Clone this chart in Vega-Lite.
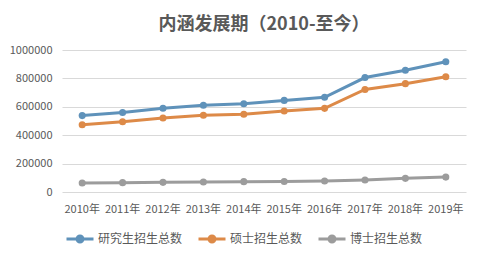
{
  "$schema": "https://vega.github.io/schema/vega-lite/v6.json",
  "autosize": {"type": "none"},
  "width": 404,
  "height": 142,
  "padding": {"left": 62, "top": 50, "right": 18, "bottom": 64},
  "background": "white",
  "title": {
    "text": "内涵发展期（2010-至今）",
    "fontSize": 18,
    "font": "Noto Sans CJK SC",
    "fontWeight": "bold",
    "color": "#595959",
    "anchor": "middle",
    "offset": 10
  },
  "data": {
    "values": [
      {"year": "2010年", "series": "研究生招生总数", "value": 538000},
      {"year": "2011年", "series": "研究生招生总数", "value": 560000},
      {"year": "2012年", "series": "研究生招生总数", "value": 590000},
      {"year": "2013年", "series": "研究生招生总数", "value": 611000},
      {"year": "2014年", "series": "研究生招生总数", "value": 621000},
      {"year": "2015年", "series": "研究生招生总数", "value": 645000},
      {"year": "2016年", "series": "研究生招生总数", "value": 667000},
      {"year": "2017年", "series": "研究生招生总数", "value": 806000},
      {"year": "2018年", "series": "研究生招生总数", "value": 858000},
      {"year": "2019年", "series": "研究生招生总数", "value": 917000},
      {"year": "2010年", "series": "硕士招生总数", "value": 474000},
      {"year": "2011年", "series": "硕士招生总数", "value": 495000},
      {"year": "2012年", "series": "硕士招生总数", "value": 521000},
      {"year": "2013年", "series": "硕士招生总数", "value": 540000},
      {"year": "2014年", "series": "硕士招生总数", "value": 548000},
      {"year": "2015年", "series": "硕士招生总数", "value": 570000},
      {"year": "2016年", "series": "硕士招生总数", "value": 589000},
      {"year": "2017年", "series": "硕士招生总数", "value": 722000},
      {"year": "2018年", "series": "硕士招生总数", "value": 763000},
      {"year": "2019年", "series": "硕士招生总数", "value": 811000},
      {"year": "2010年", "series": "博士招生总数", "value": 64000},
      {"year": "2011年", "series": "博士招生总数", "value": 66000},
      {"year": "2012年", "series": "博士招生总数", "value": 68000},
      {"year": "2013年", "series": "博士招生总数", "value": 70000},
      {"year": "2014年", "series": "博士招生总数", "value": 73000},
      {"year": "2015年", "series": "博士招生总数", "value": 74000},
      {"year": "2016年", "series": "博士招生总数", "value": 77000},
      {"year": "2017年", "series": "博士招生总数", "value": 84000},
      {"year": "2018年", "series": "博士招生总数", "value": 96000},
      {"year": "2019年", "series": "博士招生总数", "value": 105000}
    ]
  },
  "mark": {"type": "line", "strokeWidth": 3, "point": {"size": 50, "filled": true}},
  "encoding": {
    "x": {
      "field": "year",
      "type": "ordinal",
      "title": null,
      "scale": {"type": "band", "paddingInner": 0, "paddingOuter": 0},
      "axis": {
        "labelAngle": 0,
        "domain": false,
        "ticks": false,
        "labelPadding": 11,
        "labelFontSize": 11,
        "labelFont": "Noto Sans CJK SC",
        "labelColor": "#595959",
        "bandPosition": 0.5
      }
    },
    "y": {
      "field": "value",
      "type": "quantitative",
      "title": null,
      "scale": {"domain": [0, 1000000], "nice": false},
      "axis": {
        "values": [0, 200000, 400000, 600000, 800000, 1000000],
        "format": "d",
        "domain": false,
        "ticks": false,
        "labelPadding": 10,
        "labelFontSize": 11,
        "labelFont": "Noto Sans CJK SC",
        "labelColor": "#595959",
        "gridColor": "#d9d9d9",
        "gridWidth": 1
      }
    },
    "color": {
      "field": "series",
      "type": "nominal",
      "sort": ["研究生招生总数", "硕士招生总数", "博士招生总数"],
      "scale": {
        "domain": ["研究生招生总数", "硕士招生总数", "博士招生总数"],
        "range": ["#5f92ba", "#dd8a48", "#9c9c9c"]
      },
      "legend": {
        "title": null,
        "orient": "none",
        "direction": "horizontal",
        "legendX": 3,
        "legendY": 174,
        "symbolType": "M-1,0L1,0M0.22,0A0.22,0.22,0,1,1,-0.22,0A0.22,0.22,0,1,1,0.22,0",
        "symbolSize": 729,
        "symbolStrokeWidth": 3,
        "labelFontSize": 12,
        "labelFont": "Noto Sans CJK SC",
        "labelColor": "#595959",
        "labelOffset": 3,
        "columnPadding": 9
      }
    }
  },
  "config": {
    "view": {"stroke": null}
  }
}
